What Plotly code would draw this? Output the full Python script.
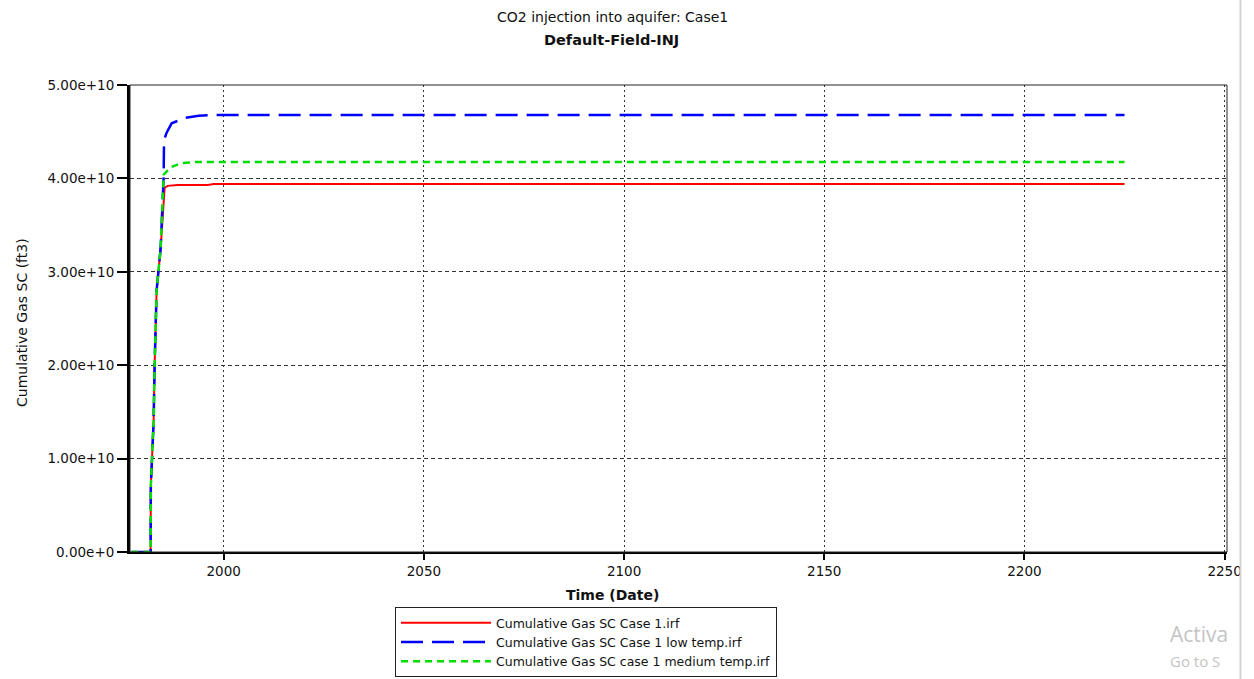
import plotly.graph_objects as go

# ---- data ----
red_years = [1977.0, 1981.75, 1981.8, 1982.0, 1982.5, 1982.75, 1983.25, 1984.25, 1985.0, 1985.25, 1986.0, 1988.5, 1996.0, 1997.5, 2225.0]
red_vals = [0.0, 0.0, 0.7e10, 0.9e10, 1.4e10, 2.0e10, 2.8e10, 3.25e10, 3.7e10, 3.90e10, 3.92e10, 3.93e10, 3.93e10, 3.94e10, 3.94e10]

blue_years = [1977.0, 1981.75, 1981.8, 1982.0, 1982.5, 1982.75, 1983.25, 1984.25, 1984.9, 1985.0, 1985.1, 1985.75, 1987.0, 1990.5, 1993.75, 1998.0, 2225.0]
blue_vals = [0.0, 0.0, 0.7e10, 0.9e10, 1.4e10, 2.0e10, 2.8e10, 3.25e10, 3.85e10, 4.01e10, 4.41e10, 4.49e10, 4.59e10, 4.65e10, 4.67e10, 4.68e10, 4.68e10]

green_years = [1977.0, 1981.75, 1981.8, 1982.0, 1982.5, 1982.75, 1983.25, 1984.25, 1984.9, 1985.0, 1986.75, 1989.5, 1993.0, 2225.0]
green_vals = [0.0, 0.0, 0.7e10, 0.9e10, 1.4e10, 2.0e10, 2.8e10, 3.25e10, 3.85e10, 4.04e10, 4.12e10, 4.165e10, 4.175e10, 4.175e10]

series_names = [
    "Cumulative Gas SC Case 1.irf",
    "Cumulative Gas SC Case 1 low temp.irf",
    "Cumulative Gas SC case 1 medium temp.irf",
]

x_ticks = [2000, 2050, 2100, 2150, 2200, 2250]
y_ticks = [0, 1e10, 2e10, 3e10, 4e10, 5e10]
y_ticktext = ["0.00e+0", "1.00e+10", "2.00e+10", "3.00e+10", "4.00e+10", "5.00e+10"]

title_line1 = "CO2 injection into aquifer: Case1"
title_line2 = "Default-Field-INJ"
x_title = "Time (Date)"
y_title = "Cumulative Gas SC (ft3)"

FONT = "DejaVu Sans, Liberation Sans, Arial, sans-serif"
TXT = "#111111"

fig = go.Figure()
fig.add_trace(go.Scatter(x=red_years, y=red_vals, mode="lines", name=series_names[0],
                         line=dict(color="#ff0000", width=2)))
fig.add_trace(go.Scatter(x=blue_years, y=blue_vals, mode="lines", name=series_names[1],
                         line=dict(color="#0000ff", width=2.5, dash="22px,9px")))
fig.add_trace(go.Scatter(x=green_years, y=green_vals, mode="lines", name=series_names[2],
                         line=dict(color="#00dd00", width=2.5, dash="7px,5px")))

L, R, T, B = 130, 27, 85, 127
W, H = 1254, 679
pw = W - L - R
ph = H - T - B


def px(xp):
    return (xp - L) / pw


def py(yp):
    return (H - B - yp) / ph


fig.update_layout(
    width=W, height=H, autosize=False,
    margin=dict(l=L, r=R, t=T, b=B, pad=0, autoexpand=False),
    paper_bgcolor="white", plot_bgcolor="white",
    font=dict(family=FONT, size=12, color=TXT),
    showlegend=True,
    legend=dict(
        x=px(395), y=py(607), xanchor="left", yanchor="top",
        bgcolor="white", bordercolor="#222222", borderwidth=1,
        font=dict(family=FONT, size=12.5, color=TXT),
        itemwidth=90, tracegroupgap=0,
    ),
    xaxis=dict(
        range=[1976.6, 2250.6], tickmode="array", tickvals=x_ticks,
        ticks="outside", ticklen=6, tickwidth=2, tickcolor="black",
        showline=True, linecolor="black", linewidth=2,
        showgrid=True, gridcolor="#333333", gridwidth=1, griddash="2px,3px",
        zeroline=False, tickfont=dict(family=FONT, size=13.5, color=TXT),
    ),
    yaxis=dict(
        range=[0, 5e10], tickmode="array", tickvals=y_ticks, ticktext=y_ticktext,
        ticks="outside", ticklen=10, tickwidth=2, tickcolor="black",
        showline=True, linecolor="black", linewidth=3,
        showgrid=True, gridcolor="#333333", gridwidth=1, griddash="4px,3px",
        zeroline=False, tickfont=dict(family=FONT, size=13.5, color=TXT),
    ),
    shapes=[
        dict(type="rect", xref="paper", yref="paper", x0=0, x1=1, y0=0, y1=1,
             line=dict(color="#222222", width=1), layer="above"),
        dict(type="rect", xref="paper", yref="paper", x0=px(1241), x1=px(1260), y0=py(700), y1=py(-20),
             line=dict(width=0), fillcolor="white", layer="above"),
        dict(type="line", xref="paper", yref="paper", x0=px(1240.5), x1=px(1240.5), y0=py(679), y1=py(0),
             line=dict(color="#d4d4d4", width=2), layer="above"),
    ],
    annotations=[
        dict(text=title_line1, xref="paper", yref="paper", x=px(612), y=py(17),
             xanchor="center", yanchor="middle", showarrow=False,
             font=dict(family=FONT, size=14, color=TXT)),
        dict(text="<b>" + title_line2 + "</b>", xref="paper", yref="paper", x=px(611), y=py(40),
             xanchor="center", yanchor="middle", showarrow=False,
             font=dict(family=FONT, size=14.5, color=TXT)),
        dict(text="<b>" + x_title + "</b>", xref="paper", yref="paper", x=px(612), y=py(595),
             xanchor="center", yanchor="middle", showarrow=False,
             font=dict(family=FONT, size=14, color=TXT)),
        dict(text=y_title, xref="paper", yref="paper", x=px(22), y=py(323),
             xanchor="center", yanchor="middle", showarrow=False, textangle=-90,
             font=dict(family=FONT, size=14, color=TXT)),
        dict(text="Activa", xref="paper", yref="paper", x=px(1168), y=py(634),
             xanchor="left", yanchor="middle", showarrow=False,
             font=dict(family="Open Sans, Noto Sans, sans-serif", size=21, color="#c4c4c4")),
        dict(text="Go to S", xref="paper", yref="paper", x=px(1168), y=py(661),
             xanchor="left", yanchor="middle", showarrow=False,
             font=dict(family="Open Sans, Noto Sans, sans-serif", size=15, color="#c4c4c4")),
    ],
)

fig.write_html("out.html")
